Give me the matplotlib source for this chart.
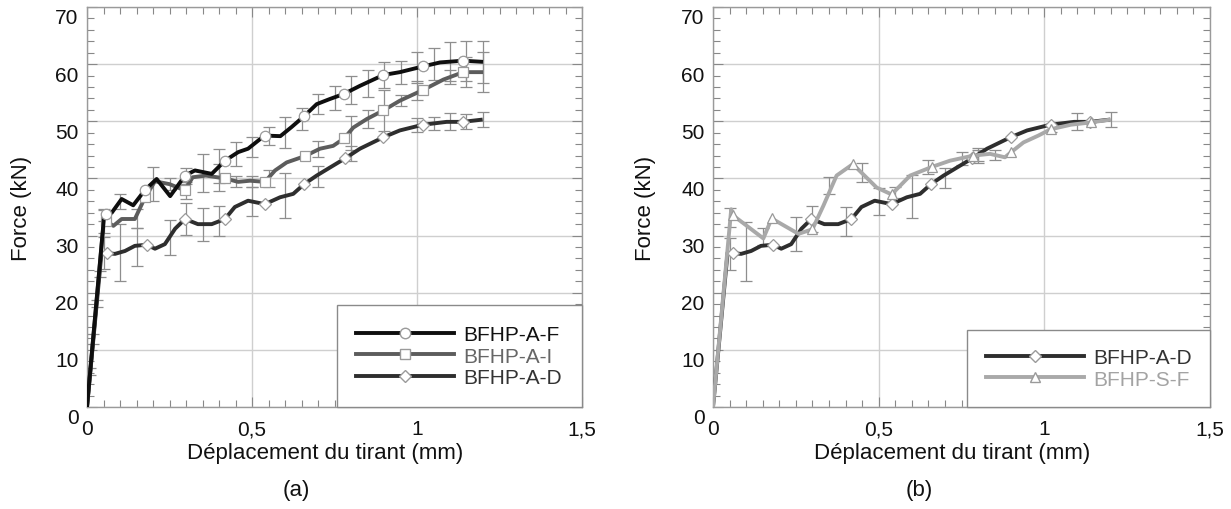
import matplotlib
matplotlib.use("Agg")
import matplotlib.pyplot as plt
from matplotlib.lines import Line2D
from matplotlib.ticker import MultipleLocator, FixedLocator, FixedFormatter
import matplotlib.transforms as mtransforms

plt.rcParams['font.family'] = ['Liberation Sans', 'DejaVu Sans']

# ---------------- data ----------------
x_ticks = [0, 0.5, 1, 1.5]
x_tick_labels = ["0", "0,5", "1", "1,5"]
y_ticks = [0, 10, 20, 30, 40, 50, 60, 70]
y_tick_labels = ["0", "10", "20", "30", "40", "50", "60", "70"]

# BFHP-A-F (panel a)
af_x = [0, 0.052, 0.057, 0.075, 0.105, 0.14, 0.176, 0.211, 0.252, 0.297, 0.327, 0.378,
        0.418, 0.458, 0.488, 0.538, 0.586, 0.62, 0.658, 0.696, 0.736, 0.779, 0.827,
        0.898, 0.948, 1.018, 1.07, 1.139, 1.2]
af_y = [0, 33.5, 33.8, 34.0, 36.4, 35.3, 38.0, 39.9, 36.9, 40.5, 41.4, 40.8,
        43.1, 44.6, 45.2, 47.5, 47.4, 49.0, 50.9, 53.0, 53.9, 54.8, 56.2,
        58.1, 58.6, 59.6, 60.3, 60.6, 60.4]
af_mx = [0.057, 0.176, 0.297, 0.418, 0.538, 0.658, 0.779, 0.898, 1.018, 1.139]
af_my = [33.8, 38.0, 40.5, 43.1, 47.5, 50.9, 54.8, 58.1, 59.6, 60.6]
af_ex = [0.05, 0.1, 0.2, 0.3, 0.35, 0.4, 0.45, 0.5, 0.55, 0.6, 0.65, 0.7, 0.75, 0.8,
         0.85, 0.9, 0.95, 1.0, 1.05, 1.1, 1.15, 1.2]
af_ey = [33.6, 36.0, 39.0, 40.5, 41.0, 42.2, 44.3, 45.5, 47.4, 48.0, 50.4, 53.0, 54.0,
         55.5, 56.6, 58.1, 58.6, 59.4, 60.1, 60.5, 60.6, 60.4]
af_err = [1.0, 1.3, 3.0, 1.4, 3.3, 3.0, 2.1, 1.7, 1.6, 2.7, 2.0, 1.8, 2.1, 2.4, 2.4,
          2.2, 2.0, 2.7, 2.8, 3.4, 3.5, 3.7]

# BFHP-A-I (panel a)
ai_x = [0, 0.05, 0.057, 0.08, 0.105, 0.145, 0.176, 0.206, 0.25, 0.297, 0.32, 0.36,
        0.418, 0.458, 0.494, 0.539, 0.57, 0.605, 0.66, 0.706, 0.746, 0.779, 0.807,
        0.848, 0.898, 0.948, 1.019, 1.08, 1.14, 1.2]
ai_y = [0, 32.0, 32.6, 31.7, 32.9, 32.9, 36.7, 39.5, 39.0, 37.9, 40.2, 40.5,
        40.0, 39.4, 39.6, 39.4, 41.4, 42.8, 43.9, 45.2, 45.7, 47.0, 48.9,
        50.4, 51.9, 53.6, 55.5, 57.3, 58.6, 58.6]
ai_mx = [0.057, 0.176, 0.297, 0.418, 0.539, 0.66, 0.779, 0.898, 1.019, 1.14]
ai_my = [32.6, 36.7, 37.9, 40.0, 39.4, 43.9, 47.0, 51.9, 55.5, 58.6]
ai_ex = [0.05, 0.15, 0.25, 0.3, 0.4, 0.45, 0.5, 0.55, 0.7, 0.8, 0.85, 0.9, 0.95, 1.0,
         1.1, 1.15, 1.2]
ai_ey = [32.4, 33.0, 39.0, 37.9, 40.2, 39.5, 39.5, 40.0, 45.2, 48.0, 50.4, 51.9, 53.6,
         55.4, 57.8, 58.6, 58.6]
ai_err = [2.0, 1.6, 1.0, 1.5, 2.4, 1.0, 1.0, 1.5, 1.4, 3.0, 1.5, 3.6, 1.0, 1.6, 1.2,
          2.6, 3.5]

# BFHP-A-D (panels a and b)
ad_x = [0, 0.044, 0.06, 0.085, 0.115, 0.145, 0.181, 0.206, 0.236, 0.267, 0.297, 0.336,
        0.378, 0.418, 0.448, 0.488, 0.539, 0.585, 0.625, 0.658, 0.696, 0.736, 0.782,
        0.827, 0.898, 0.948, 1.004, 1.019, 1.09, 1.138, 1.199]
ad_y = [0, 27.0, 26.9, 26.8, 27.3, 28.2, 28.4, 27.7, 28.5, 31.2, 32.9, 32.0,
        32.0, 32.9, 35.0, 36.1, 35.5, 36.7, 37.3, 39.0, 40.5, 41.9, 43.5,
        45.2, 47.2, 48.4, 49.2, 49.4, 49.9, 49.9, 50.3]
ad_mx = [0.06, 0.181, 0.297, 0.418, 0.539, 0.658, 0.782, 0.898, 1.019, 1.138]
ad_my = [26.9, 28.4, 32.9, 32.9, 35.5, 39.0, 43.5, 47.2, 49.4, 49.9]
ad_ex = [0.05, 0.1, 0.15, 0.25, 0.3, 0.35, 0.4, 0.5, 0.6, 0.7, 0.8, 1.0, 1.05, 1.1,
         1.15, 1.2]
ad_ey = [27.0, 27.0, 28.0, 29.7, 32.9, 32.0, 32.5, 36.0, 37.0, 40.3, 44.3, 49.3, 49.6,
         49.9, 49.9, 50.3]
ad_err = [2.8, 5.0, 3.3, 3.1, 2.8, 2.9, 2.6, 2.5, 4.0, 1.8, 1.3, 1.2, 1.2, 1.5, 1.3, 1.3]

# small error bars along the initial elastic branch (panel a)
el_x = [0.010, 0.019, 0.029, 0.038]
el_y = [6.2, 11.9, 18.1, 23.3]
el_err = [0.6, 0.8, 0.6, 0.5]

# BFHP-S-F (panel b)
sf_x = [0, 0.055, 0.059, 0.152, 0.177, 0.258, 0.3, 0.333, 0.373, 0.422, 0.494, 0.539,
        0.595, 0.66, 0.715, 0.786, 0.836, 0.881, 0.9, 0.937, 0.982, 1.019, 1.08, 1.14, 1.2]
sf_y = [0, 34.6, 33.6, 29.5, 33.0, 30.3, 31.1, 35.2, 40.5, 42.5, 38.4, 37.2,
        40.5, 42.0, 43.1, 44.0, 44.3, 43.7, 44.6, 46.3, 47.5, 48.6, 49.4, 49.8, 50.3]
sf_mx = [0.059, 0.177, 0.3, 0.422, 0.539, 0.66, 0.786, 0.9, 1.019, 1.14]
sf_my = [33.6, 33.0, 31.1, 42.5, 37.2, 42.0, 44.0, 44.6, 48.6, 49.8]
sf_ex = [0.05, 0.15, 0.25, 0.35, 0.45, 0.55, 0.65, 0.75, 0.8, 0.85, 1.02]
sf_ey = [33.2, 29.8, 30.3, 38.7, 41.0, 37.5, 42.0, 43.5, 44.0, 44.1, 48.7]
sf_err = [1.7, 1.5, 3.0, 1.5, 1.7, 1.0, 1.3, 1.2, 1.0, 0.9, 0.6]

ad2_ex = [0.05, 0.1, 0.3, 0.4, 0.5, 0.6, 0.7, 0.8, 1.1, 1.2]
ad2_ey = [26.8, 27.2, 32.9, 32.5, 36.0, 36.8, 40.1, 44.0, 49.9, 50.3]
ad2_err = [2.8, 5.2, 2.3, 2.5, 2.4, 3.8, 1.8, 1.3, 1.5, 1.3]

labels_a = ["BFHP-A-F", "BFHP-A-I", "BFHP-A-D"]
labels_b = ["BFHP-A-D", "BFHP-S-F"]

# ---------------- style ----------------
C_AF, C_AI, C_AD, C_SF = '#0e0e0e', '#5c5c5c', '#2e2e2e', '#a9a9a9'
T_AF, T_AI, T_AD, T_SF = '#111111', '#666666', '#333333', '#a3a3a3'
ERR_C = '#8e8e8e'
MEC = '#9a9a9a'
LW = 2.8
MS = 7.5

W, H = 1231, 510
fig = plt.figure(figsize=(W / 100, H / 100), dpi=100)
ax1 = fig.add_axes([87 / W, 102 / H, 495 / W, 400 / H])
ax2 = fig.add_axes([713 / W, 102 / H, 497 / W, 400 / H])


def style_axes(ax, ylab_x):
    ax.set_xlim(0, 1.5)
    ax.set_ylim(0, 70)
    ax.xaxis.set_major_locator(FixedLocator(x_ticks))
    ax.xaxis.set_major_formatter(FixedFormatter(x_tick_labels))
    ax.yaxis.set_major_locator(FixedLocator(y_ticks))
    ax.yaxis.set_major_formatter(FixedFormatter(y_tick_labels))
    ax.xaxis.set_minor_locator(MultipleLocator(0.05))
    ax.yaxis.set_minor_locator(MultipleLocator(2))
    ax.tick_params(which='both', direction='in', top=True, right=True,
                   color='#888888', width=0.8, labelsize=15, labelcolor='#111111')
    ax.tick_params(which='major', length=7)
    ax.tick_params(which='minor', length=5)
    ax.tick_params(axis='x', which='major', pad=9)
    ax.tick_params(axis='y', which='major', pad=6)
    ax.grid(True, which='major', color='#cfcfcf', lw=1.0, zorder=0)
    ax.set_axisbelow(True)
    for s in ax.spines.values():
        s.set_color('#9a9a9a')
        s.set_linewidth(1.0)
    off = mtransforms.ScaledTranslation(0, -9 / 100, fig.dpi_scale_trans)
    for lab in ax.get_yticklabels():
        lab.set_transform(lab.get_transform() + off)
    ax.set_ylabel("Force (kN)", fontsize=16, color='#111111')
    ax.yaxis.set_label_coords(ylab_x, 0.5)
    ax.set_xlabel("Déplacement du tirant (mm)", fontsize=16, color='#111111')
    ax.xaxis.set_label_coords(0.482, -0.088)


def errbars(ax, x, y, e, z=2):
    ax.errorbar(x, y, yerr=e, fmt='none', ecolor=ERR_C, elinewidth=0.9,
                capsize=4.5, capthick=0.9, zorder=z)


def series(ax, x, y, mx, my, color, marker, z, ms=MS):
    ax.plot(x, y, color=color, lw=LW, solid_capstyle='butt', zorder=z)
    ax.plot(mx, my, ls='none', marker=marker, ms=ms, mfc='white', mec=MEC,
            mew=0.9, zorder=z + 0.5)


style_axes(ax1, -0.112)
style_axes(ax2, -0.115)

# panel (a)
errbars(ax1, ad_ex, ad_ey, ad_err)
errbars(ax1, ai_ex, ai_ey, ai_err)
errbars(ax1, af_ex, af_ey, af_err)
errbars(ax1, el_x, el_y, el_err)
series(ax1, ad_x, ad_y, ad_mx, ad_my, C_AD, 'D', 4, ms=6.3)
series(ax1, ai_x, ai_y, ai_mx, ai_my, C_AI, 's', 5)
series(ax1, af_x, af_y, af_mx, af_my, C_AF, 'o', 6)

h_a = [Line2D([], [], color=C_AF, lw=LW, marker='o', ms=MS, mfc='white', mec=MEC),
       Line2D([], [], color=C_AI, lw=LW, marker='s', ms=MS, mfc='white', mec=MEC),
       Line2D([], [], color=C_AD, lw=LW, marker='D', ms=6.3, mfc='white', mec=MEC)]
leg = ax1.legend(h_a, labels_a, loc='lower right', borderaxespad=0, fontsize=15,
                 handlelength=4.7, handletextpad=0.45, labelspacing=0.12,
                 borderpad=0.95, fancybox=False, framealpha=1, edgecolor='#8a8a8a')
leg.get_frame().set_linewidth(1.0)
leg.set_zorder(10)
for t, c in zip(leg.get_texts(), [T_AF, T_AI, T_AD]):
    t.set_color(c)

# panel (b)
errbars(ax2, ad2_ex, ad2_ey, ad2_err)
errbars(ax2, sf_ex, sf_ey, sf_err)
series(ax2, ad_x, ad_y, ad_mx, ad_my, C_AD, 'D', 4, ms=6.3)
series(ax2, sf_x, sf_y, sf_mx, sf_my, C_SF, '^', 5)

h_b = [Line2D([], [], color=C_AD, lw=LW, marker='D', ms=6.3, mfc='white', mec=MEC),
       Line2D([], [], color=C_SF, lw=LW, marker='^', ms=MS, mfc='white', mec=MEC)]
leg2 = ax2.legend(h_b, labels_b, loc='lower right', borderaxespad=0, fontsize=15,
                  handlelength=4.7, handletextpad=0.45, labelspacing=0.12,
                  borderpad=0.88, fancybox=False, framealpha=1, edgecolor='#8a8a8a')
leg2.get_frame().set_linewidth(1.0)
leg2.set_zorder(10)
for t, c in zip(leg2.get_texts(), [T_AD, T_SF]):
    t.set_color(c)

fig.text(296 / W, 1 - 491 / H, "(a)", fontsize=16, ha='center', va='center', color='#111111')
fig.text(919 / W, 1 - 491 / H, "(b)", fontsize=16, ha='center', va='center', color='#111111')

fig.savefig("out.png", dpi=100)
